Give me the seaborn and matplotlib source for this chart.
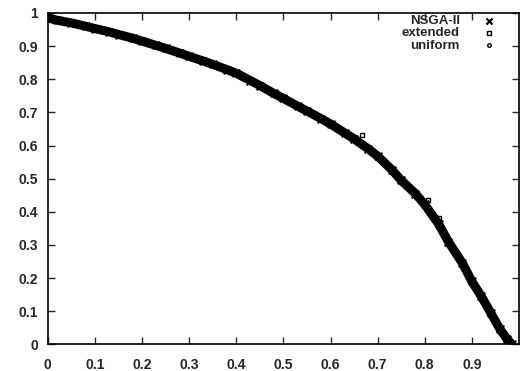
import matplotlib
matplotlib.use("Agg")
import matplotlib.pyplot as plt
import seaborn as sns
import pandas as pd

# Pareto front (f1, f2)
nsga_x = [0.0, 0.02, 0.05, 0.08, 0.1, 0.13, 0.15, 0.18, 0.2, 0.23, 0.25, 0.28, 0.3, 0.33,
          0.35, 0.38, 0.4, 0.43, 0.45, 0.48, 0.5, 0.53, 0.55, 0.58, 0.6, 0.63, 0.65, 0.68,
          0.7, 0.73, 0.75, 0.78, 0.8, 0.83, 0.85, 0.88, 0.9, 0.92, 0.94, 0.96, 0.975, 0.985]
nsga_y = [0.985, 0.978, 0.97, 0.96, 0.953, 0.943, 0.935, 0.924, 0.915, 0.902, 0.893, 0.879,
          0.869, 0.855, 0.845, 0.829, 0.818, 0.796, 0.781, 0.757, 0.742, 0.719, 0.704, 0.681,
          0.665, 0.638, 0.62, 0.59, 0.568, 0.527, 0.495, 0.455, 0.422, 0.362, 0.31, 0.245,
          0.19, 0.145, 0.095, 0.045, 0.015, 0.0]

extended_x = [0.0, 0.12, 0.26, 0.41, 0.55, 0.667, 0.74, 0.807, 0.83, 0.9, 0.97]
extended_y = [0.983, 0.946, 0.891, 0.815, 0.707, 0.633, 0.51, 0.437, 0.38, 0.19, 0.02]

uniform_x = [0.0, 0.1, 0.2, 0.3, 0.4, 0.5, 0.6, 0.7, 0.8, 0.9, 0.98]
uniform_y = [0.985, 0.953, 0.915, 0.869, 0.818, 0.742, 0.665, 0.568, 0.422, 0.19, 0.0]

x_ticks = [0, 0.1, 0.2, 0.3, 0.4, 0.5, 0.6, 0.7, 0.8, 0.9]
y_ticks = [0, 0.1, 0.2, 0.3, 0.4, 0.5, 0.6, 0.7, 0.8, 0.9, 1]

sns.set_style("ticks")
plt.rcParams['font.family'] = ['Liberation Sans', 'DejaVu Sans']
plt.rcParams['font.weight'] = 'bold'

fig = plt.figure(figsize=(5.2, 3.71), dpi=100)
ax = fig.add_axes([0.092, 0.072, 0.906, 0.893])

nsga = pd.DataFrame({'f1': nsga_x, 'f2': nsga_y})
ext = pd.DataFrame({'f1': extended_x, 'f2': extended_y})
uni = pd.DataFrame({'f1': uniform_x, 'f2': uniform_y})

# dense band of NSGA-II solutions
sns.lineplot(data=nsga, x='f1', y='f2', color='black', linewidth=6.5, sort=False,
             legend=False, ax=ax, zorder=2)
sns.scatterplot(data=nsga, x='f1', y='f2', marker='x', color='black', s=30,
                linewidth=1.5, label='NSGA-II', ax=ax, zorder=2)
ax.scatter(ext['f1'], ext['f2'], marker='s', facecolors='white', edgecolors='black',
           s=12, linewidths=1.0, label='extended', zorder=1)
ax.scatter(uni['f1'], uni['f2'], marker='o', facecolors='white', edgecolors='black',
           s=10, linewidths=1.0, label='uniform', zorder=1)

ax.set_xlim(0, 1)
ax.set_ylim(0, 1)
ax.set_xticks(x_ticks)
ax.set_xticklabels([f"{t:g}" for t in x_ticks])
ax.set_yticks(y_ticks)
ax.set_yticklabels([f"{t:g}" for t in y_ticks])
ax.set_xlabel('')
ax.set_ylabel('')
ax.tick_params(direction='in', length=5, width=1, top=True, right=True,
               labelsize=10, pad=7)
ax.tick_params(axis='x', pad=10)
for sp in ax.spines.values():
    sp.set_linewidth(1.2)
    sp.set_color('black')

leg = ax.legend(loc='upper right', frameon=False, markerfirst=False, fontsize=9.5,
                handletextpad=1.2, labelspacing=0.0, borderaxespad=0.0,
                bbox_to_anchor=(0.975, 1.01), markerscale=0.8)
for t in leg.get_texts():
    t.set_fontweight('bold')

fig.savefig('out.png', dpi=100)
